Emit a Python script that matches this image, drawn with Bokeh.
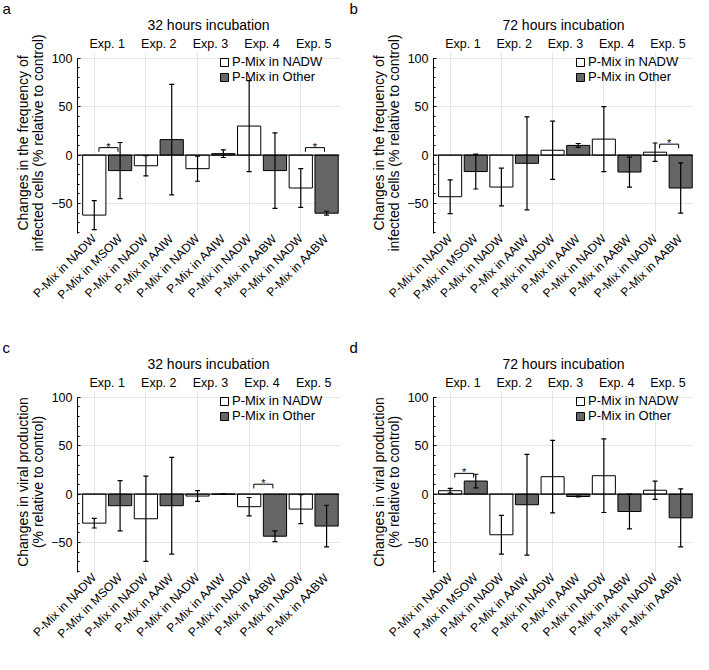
import math
from bokeh.plotting import figure
from bokeh.models import (ColumnDataSource, Whisker, TeeHead, Span, Legend, LegendItem,
                          LinearAxis, FixedTicker, SingleIntervalTicker, Range1d)
from bokeh.layouts import column, row
from bokeh.embed import file_html
from bokeh.resources import INLINE

# ---------------- data ----------------
categories = ["P-Mix in NADW", "P-Mix in MSOW", "P-Mix in NADW", "P-Mix in AAIW",
              "P-Mix in NADW", "P-Mix in AAIW", "P-Mix in NADW", "P-Mix in AABW",
              "P-Mix in NADW", "P-Mix in AABW"]
exp_labels = ["Exp. 1", "Exp. 2", "Exp. 3", "Exp. 4", "Exp. 5"]
series_names = ["P-Mix in NADW", "P-Mix in Other"]

# a: 32 h, frequency of infected cells
vals_a = [-62, -16, -11, 16, -14, 1.5, 30, -16, -34, -60]
err_a = [15, 29, 10.5, 57, 13, 4, 47, 39, 20, 2]
sig_a = [0, 8]
sig_a_h = [7.7, 7.7]

# b: 72 h, frequency of infected cells
vals_b = [-43, -17, -33, -8.5, 5, 10, 16.5, -17.5, 3, -34]
err_b = [17.5, 18, 19.5, 48, 30, 2, 33.5, 15.5, 9.5, 26]
sig_b = [8]
sig_b_h = [11.3]

# c: 32 h, viral production
vals_c = [-30, -12, -25.5, -12, -2, 0, -13, -43.5, -15.5, -33]
err_c = [5, 26, 44, 50, 5.5, 0, 9.5, 5.5, 15, 21.5]
sig_c = [6]
sig_c_h = [10.2]

# d: 72 h, viral production
vals_d = [3.5, 13.5, -42, -11, 18, -2.5, 19, -18, 4, -24.5]
err_d = [2.5, 7, 20, 52, 37.5, 0.5, 38, 18, 9.5, 30]
sig_d = [0]
sig_d_h = [21.4]

FONT = "Liberation Sans"
GRAY = "#666666"


def make_panel(letter, title, ylabel, vals, errs, sig_left, sig_h,
               width, height, b_left, b_right, b_bottom):
    x = list(range(len(categories)))
    p = figure(width=width, height=height,
               x_range=Range1d(-0.65, 9.5), y_range=Range1d(-81, 106),
               output_backend="svg", toolbar_location=None,
               x_axis_location=None, y_axis_location=None,
               min_border_left=b_left, min_border_right=b_right,
               min_border_top=0, min_border_bottom=b_bottom)
    p.outline_line_color = None
    p.background_fill_color = "white"
    p.border_fill_color = "white"

    # panel letter
    p.title.text = letter
    p.title.align = "left"
    p.title.offset = -(b_left - 2)
    p.title.standoff = -6
    p.title.text_font = FONT
    p.title.text_font_size = "15px"
    p.title.text_font_style = "normal"
    p.title.text_color = "black"

    # left axis
    yax = LinearAxis(ticker=SingleIntervalTicker(interval=50, num_minor_ticks=5),
                     bounds=(-81, 100), axis_label=ylabel)
    yax.axis_line_color = "black"
    yax.major_tick_in = 3
    yax.major_tick_out = 0
    yax.minor_tick_in = 2
    yax.minor_tick_out = 0
    yax.major_label_standoff = 5
    yax.major_label_text_font = FONT
    yax.major_label_text_font_size = "12.5px"
    yax.major_label_text_color = "black"
    yax.axis_label_text_font = FONT
    yax.axis_label_text_font_size = "14px"
    yax.axis_label_text_font_style = "normal"
    yax.axis_label_text_color = "black"
    yax.axis_label_standoff = 2
    yax.axis_label_text_line_height = 0.95
    p.add_layout(yax, "left")

    # bottom axis with rotated category labels
    xax = LinearAxis(ticker=FixedTicker(ticks=x),
                     major_label_overrides={i: c for i, c in zip(x, categories)})
    xax.major_label_orientation = math.pi / 4
    xax.axis_line_color = None
    xax.major_tick_line_color = None
    xax.minor_tick_line_color = None
    xax.major_tick_in = 0
    xax.major_tick_out = 0
    xax.major_label_standoff = 3
    xax.major_label_text_font = FONT
    xax.major_label_text_font_size = "12px"
    xax.major_label_text_color = "black"
    p.add_layout(xax, "below")

    # top axis: experiment labels, with the incubation time as its label
    exp_pos = [(x[2 * k] + x[2 * k + 1]) / 2 for k in range(len(exp_labels))]
    tax = LinearAxis(ticker=FixedTicker(ticks=exp_pos),
                     major_label_overrides={pos: lab for pos, lab in zip(exp_pos, exp_labels)},
                     axis_label=title)
    tax.axis_line_color = None
    tax.major_tick_line_color = None
    tax.minor_tick_line_color = None
    tax.major_tick_in = 0
    tax.major_tick_out = 0
    tax.major_label_standoff = 2
    tax.major_label_text_font = FONT
    tax.major_label_text_font_size = "12.5px"
    tax.major_label_text_color = "black"
    tax.axis_label_text_font = FONT
    tax.axis_label_text_font_size = "14px"
    tax.axis_label_text_font_style = "normal"
    tax.axis_label_text_color = "black"
    tax.axis_label_standoff = 1
    p.add_layout(tax, "above")

    # zero line
    p.add_layout(Span(location=0, dimension="width", line_color="black", line_width=1))

    # bars
    src_n = ColumnDataSource(dict(x=x[0::2], top=vals[0::2]))
    src_o = ColumnDataSource(dict(x=x[1::2], top=vals[1::2]))
    r_n = p.vbar(x="x", top="top", bottom=0, width=0.9, source=src_n,
                 fill_color="white", line_color="black", line_width=1)
    r_o = p.vbar(x="x", top="top", bottom=0, width=0.9, source=src_o,
                 fill_color=GRAY, line_color="black", line_width=1)

    # error bars
    src_e = ColumnDataSource(dict(x=x, lower=[v - e for v, e in zip(vals, errs)],
                                  upper=[v + e for v, e in zip(vals, errs)]))
    w = Whisker(source=src_e, base="x", lower="lower", upper="upper",
                line_color="black", line_width=1.2, level="overlay",
                upper_head=TeeHead(size=5, line_width=1.2, line_color="black"),
                lower_head=TeeHead(size=5, line_width=1.2, line_color="black"))
    p.add_layout(w)

    # significance brackets
    xs, ys, sx, sy = [], [], [], []
    for l, h in zip(sig_left, sig_h):
        x0 = x[l] + 0.18
        x1 = x[l + 1] - 0.08
        xs.append([x0, x0, x1, x1])
        ys.append([h - 4.3, h, h, h - 4.3])
        sx.append((x0 + x1) / 2)
        sy.append(h + 1)
    p.multi_line(xs, ys, line_color="black", line_width=1)
    p.text(x=sx, y=sy, text=["*"] * len(sx), text_align="center",
           text_baseline="alphabetic", text_font_size="11px", text_color="black")

    # legend, anchored to the frame's top-right; label_width sets its left edge
    frame_w = width - b_left - b_right
    legend = Legend(items=[LegendItem(label=series_names[0], renderers=[r_n]),
                           LegendItem(label=series_names[1], renderers=[r_o])],
                    location="top_right", orientation="vertical",
                    glyph_width=10, glyph_height=10, label_height=14,
                    label_standoff=3, label_width=frame_w - 142 - 2 - 13,
                    spacing=0, padding=0, margin=2,
                    border_line_color=None, background_fill_alpha=0)
    legend.label_text_font = FONT
    legend.label_text_font_size = "13px"
    legend.label_text_color = "black"
    p.add_layout(legend)
    return p


yl_top = "Changes in the frequency of\ninfected cells (% relative to control)"
yl_bot = "Changes in viral production\n(% relative to control)"

pa = make_panel("a", "32 hours incubation", yl_top, vals_a, err_a, sig_a, sig_a_h,
                347, 339, 77, 8, 106)
pb = make_panel("b", "72 hours incubation", yl_top, vals_b, err_b, sig_b, sig_b_h,
                346, 339, 86, 0, 106)
pc = make_panel("c", "32 hours incubation", yl_bot, vals_c, err_c, sig_c, sig_c_h,
                347, 315, 77, 8, 82)
pd = make_panel("d", "72 hours incubation", yl_bot, vals_d, err_d, sig_d, sig_d_h,
                346, 315, 86, 0, 82)

layout = column(row(pa, pb), row(pc, pd))
open("out.html", "w").write(file_html(layout, INLINE))
